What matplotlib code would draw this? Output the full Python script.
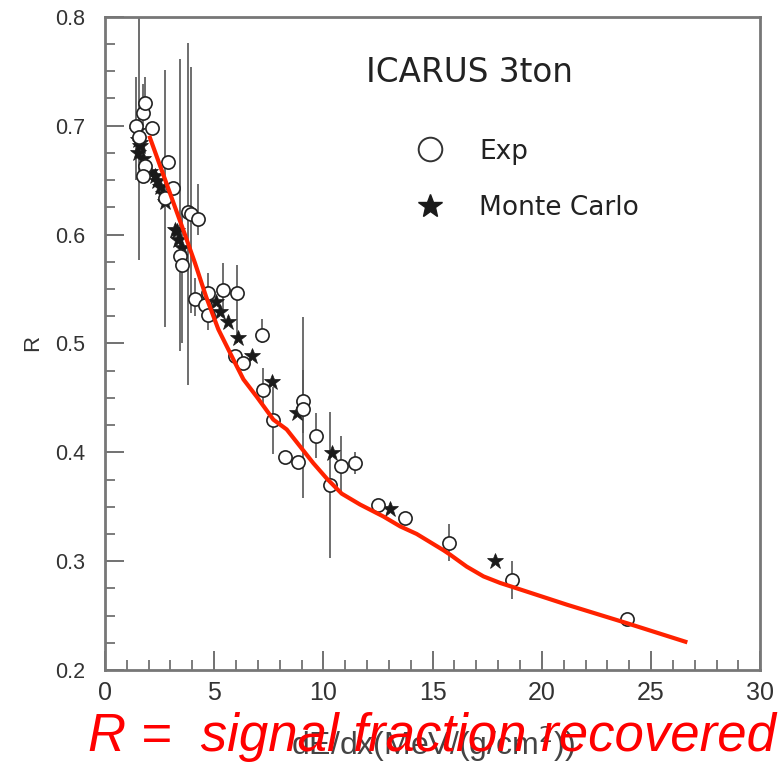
import matplotlib.pyplot as plt
from matplotlib.ticker import MultipleLocator
from matplotlib.lines import Line2D

# experimental points: x, R, bar bottom, bar top
exp_x = [1.42, 1.55, 1.75, 1.83, 2.14, 1.83, 1.75, 2.90, 3.13, 2.75, 3.45, 3.51,
         3.82, 3.95, 4.27, 4.12, 4.58, 4.73, 4.73, 5.42, 6.03, 5.95, 6.34, 7.18,
         7.25, 7.71, 8.25, 8.86, 9.09, 9.09, 9.67, 10.3, 10.8, 11.45, 12.5, 13.74,
         15.73, 18.63, 23.9]
exp_y = [0.700, 0.690, 0.712, 0.721, 0.698, 0.663, 0.654, 0.667, 0.643, 0.634, 0.580, 0.572,
         0.621, 0.619, 0.614, 0.541, 0.535, 0.526, 0.546, 0.549, 0.546, 0.488, 0.482, 0.508,
         0.457, 0.430, 0.396, 0.391, 0.447, 0.440, 0.415, 0.370, 0.387, 0.390, 0.352, 0.340,
         0.317, 0.283, 0.247]
exp_lo = [0.650, 0.577, 0.700, 0.712, 0.698, 0.663, 0.654, 0.667, 0.643, 0.515, 0.493, 0.500,
          0.462, 0.528, 0.600, 0.525, 0.535, 0.512, 0.546, 0.528, 0.500, 0.488, 0.482, 0.500,
          0.442, 0.398, 0.396, 0.391, 0.418, 0.358, 0.395, 0.303, 0.361, 0.380, 0.352, 0.340,
          0.300, 0.265, 0.247]
exp_hi = [0.745, 0.800, 0.738, 0.745, 0.698, 0.663, 0.654, 0.667, 0.643, 0.751, 0.761, 0.620,
          0.776, 0.754, 0.646, 0.560, 0.535, 0.565, 0.546, 0.574, 0.572, 0.488, 0.482, 0.522,
          0.477, 0.460, 0.396, 0.391, 0.476, 0.524, 0.436, 0.437, 0.415, 0.400, 0.352, 0.340,
          0.334, 0.300, 0.247]

# Monte Carlo points
mc_x = [1.45, 1.53, 1.60, 1.53, 1.60, 1.75, 2.06, 2.29, 2.37, 2.52, 2.67, 2.75, 3.21, 3.28,
        3.36, 3.51, 5.08, 5.27, 5.65, 6.10, 6.72, 7.63, 8.78, 10.38, 13.05, 17.87]
mc_y = [0.695, 0.687, 0.681, 0.675, 0.684, 0.669, 0.657, 0.654, 0.649, 0.644, 0.637, 0.630, 0.604, 0.603,
        0.595, 0.588, 0.538, 0.529, 0.520, 0.505, 0.488, 0.465, 0.436, 0.399, 0.348, 0.300]

# red curve
fit_x = [2.06, 3.59, 4.12, 4.63, 5.19, 5.96, 6.34, 6.95, 7.71, 8.32, 9.54, 10.15, 10.84,
         11.68, 12.75, 13.51, 14.27, 15.5, 15.8, 16.56, 17.33, 18.09, 18.86, 21.15, 23.9, 26.57]
fit_y = [0.689, 0.604, 0.574, 0.543, 0.513, 0.482, 0.467, 0.451, 0.430, 0.421, 0.390, 0.376, 0.362,
         0.352, 0.341, 0.332, 0.325, 0.310, 0.306, 0.295, 0.286, 0.280, 0.275, 0.260, 0.243, 0.226]

plt.rcParams['font.family'] = ['Liberation Sans', 'DejaVu Sans']

fig = plt.figure(figsize=(7.83, 7.64), dpi=100)
ax = fig.add_axes([0.134, 0.123, 0.837, 0.855])

err_lo = [y - lo for y, lo in zip(exp_y, exp_lo)]
err_hi = [hi - y for y, hi in zip(exp_y, exp_hi)]
ax.errorbar(exp_x, exp_y, yerr=[err_lo, err_hi], fmt='none', ecolor='#555555',
            elinewidth=1.2, capsize=0, zorder=2)
ax.plot(mc_x, mc_y, '*', color='#1a1a1a', markersize=12, markeredgewidth=0.5, zorder=3)
ax.plot(exp_x, exp_y, 'o', markerfacecolor='white', markeredgecolor='#222222',
        markersize=9.5, markeredgewidth=1.2, zorder=4)
ax.plot(fit_x, fit_y, '-', color='#ff2200', linewidth=3, zorder=5,
        solid_joinstyle='round')

ax.set_xlim(0, 30)
ax.set_ylim(0.2, 0.8)
ax.xaxis.set_major_locator(MultipleLocator(5))
ax.xaxis.set_minor_locator(MultipleLocator(1))
ax.yaxis.set_minor_locator(MultipleLocator(0.025))
ax.set_yticks([0.2, 0.3, 0.4, 0.5, 0.6, 0.7, 0.8])
ax.set_yticklabels(['0.2', '0.3', '0.4', '0.5', '0.6', '0.7', '0.8'])
ax.tick_params(which='both', direction='in', top=False, right=False, color='#666666',
               labelcolor='#333333')
ax.tick_params(which='major', length=14, width=1.3)
ax.tick_params(which='minor', length=7, width=1.2)
ax.tick_params(axis='x', labelsize=18, pad=8)
ax.tick_params(axis='y', labelsize=15.5, pad=14)
for s in ax.spines.values():
    s.set_color('#777777')
    s.set_linewidth(2)

ax.set_ylabel('R', fontsize=16, color='#333333', labelpad=9)
ax.set_xlabel('dE/dx(MeV/(g/cm$^2$))', fontsize=23, color='#444444', labelpad=14)

ax.text(0.556, 0.915, 'ICARUS 3ton', transform=ax.transAxes, fontsize=23.5,
        color='#222222', ha='center', va='center', family='DejaVu Sans')

handles = [Line2D([], [], linestyle='none', marker='o', markerfacecolor='white',
                  markeredgecolor='#333333', markersize=17, markeredgewidth=1.4),
           Line2D([], [], linestyle='none', marker='*', color='#1a1a1a', markersize=18)]
leg = ax.legend(handles, ['Exp', 'Monte Carlo'], loc='upper left',
                bbox_to_anchor=(0.43, 0.85), frameon=False, fontsize=19,
                handletextpad=1.1, labelspacing=1.15, handlelength=1.5)
for t in leg.get_texts():
    t.set_color('#222222')
    t.set_family('DejaVu Sans')

fig.text(0.552, 0.035, 'R =  signal fraction recovered', fontsize=38, color='red',
         style='italic', ha='center', va='center')

fig.savefig('out.png', dpi=100)
